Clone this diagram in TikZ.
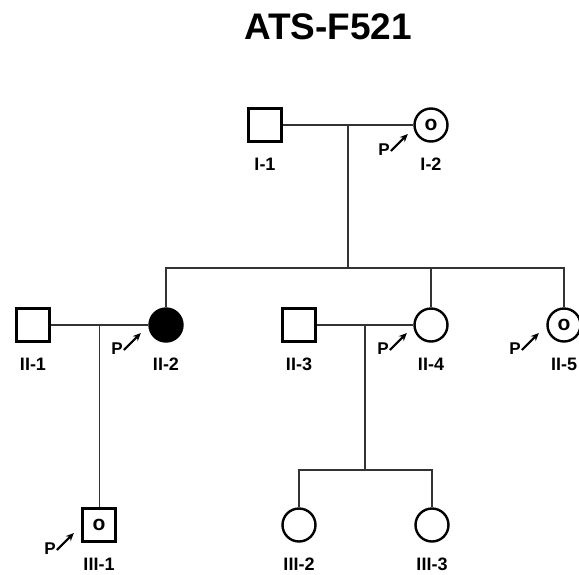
\documentclass[tikz,border=0pt]{standalone}
\usepackage{fontspec}
\setmainfont{Liberation Sans}
\usetikzlibrary{arrows.meta, positioning, calc}

\begin{document}
\begin{tikzpicture}[x=1pt, y=-1pt,
  male/.style     = {draw, rectangle, line width=2.4pt, minimum size=33pt, inner sep=0pt,
                     font=\bfseries\fontsize{21}{21}\selectfont},
  female/.style   = {draw, circle, line width=2.4pt, minimum size=33pt, inner sep=0pt,
                     font=\bfseries\fontsize{21}{21}\selectfont},
  affected/.style = {fill=black},
  lbl/.style      = {inner sep=0pt, font=\bfseries\fontsize{18}{18}\selectfont},
  ptag/.style     = {inner sep=0pt, font=\bfseries\fontsize{17}{17}\selectfont},
  rel/.style      = {draw=black!80, line width=1.1pt},
  proband/.style  = {-{Stealth[length=8pt, width=7pt]}, line width=2pt},
]
\useasboundingbox (0,0) rectangle (579,574);

\node[font=\bfseries\fontsize{37}{37}\selectfont] (title) at (328,27) {ATS-F521};

% generation I
\node[male]   (i1) at (265,125) {};
\node[female] (i2) at (431,125) {o};

% generation II
\node[male]             (ii1) at (33,325)  {};
\node[female, affected] (ii2) at (166,325) {};
\node[male]             (ii3) at (299,325) {};
\node[female]           (ii4) at (431,325) {};
\node[female]           (ii5) at (564,325) {o};

% generation III
\node[male]   (iii1) at (99,525)  {o};
\node[female] (iii2) at (299,525) {};
\node[female] (iii3) at (432,525) {};

% labels
\foreach \nm/\lab in {i1/I-1, i2/I-2, ii1/II-1, ii2/II-2, ii3/II-3, ii4/II-4,
                      ii5/II-5, iii1/III-1, iii2/III-2, iii3/III-3}{
  \node[lbl] (\nm l) at ($(\nm)+(0,39)$) {\lab};
}

% probands
\foreach \nm/\px/\py in {pi2/384/150, pii2/117/349, pii4/383/349,
                         pii5/515/349, piii1/50/549}{
  \node[ptag] (\nm) at (\px,\py) {P};
  \draw[proband] (\nm.east) ++(1,1) -- ++(17,-17);
}

% lines of descent
\coordinate (m1) at ($(i1.east)!0.5!(i2.west)$);
\coordinate (s1) at ($(m1)+(0,143)$);
\draw[rel] (i1) -- (i2);
\draw[rel] (m1) -- (s1);
\draw[rel] (s1) -| (ii2);
\draw[rel] (s1) -| (ii4);
\draw[rel] (s1) -| (ii5);

\coordinate (m2) at ($(ii1.east)!0.5!(ii2.west)$);
\draw[rel] (ii1) -- (ii2);
\draw[rel] (m2) -- (m2 |- iii1.north);

\coordinate (m3) at ($(ii3.east)!0.5!(ii4.west)$);
\coordinate (s3) at ($(m3)+(0,145)$);
\draw[rel] (ii3) -- (ii4);
\draw[rel] (m3) -- (s3);
\draw[rel] (s3) -| (iii2);
\draw[rel] (s3) -| (iii3);

\end{tikzpicture}
\end{document}
